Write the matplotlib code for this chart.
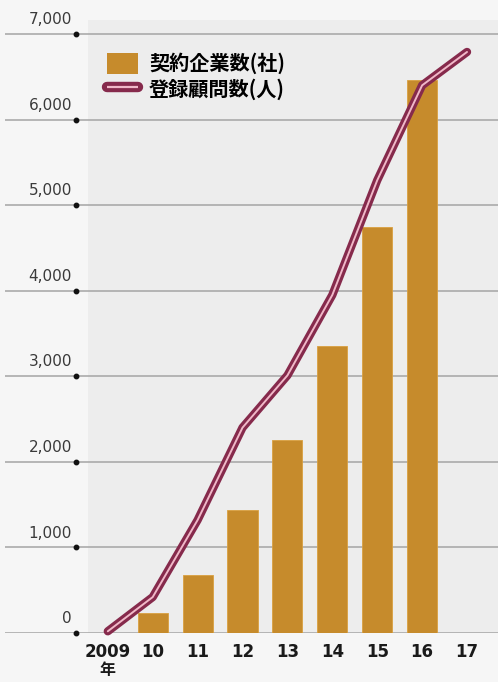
import matplotlib.pyplot as plt
import numpy as np
from matplotlib.lines import Line2D
from matplotlib.patches import Patch
from matplotlib.legend_handler import HandlerTuple

plt.rcParams['font.family'] = ['Noto Sans CJK JP', 'DejaVu Sans']

# Data
years = ["2009", "10", "11", "12", "13", "14", "15", "16", "17"]
companies = [0, 230, 680, 1440, 2250, 3350, 4750, 6460, 0]       # 契約企業数(社)
advisors = [20, 420, 1320, 2400, 3010, 3950, 5290, 6400, 6790]   # 登録顧問数(人)
yticks = [0, 1000, 2000, 3000, 4000, 5000, 6000, 7000]

BAR_COLOR = "#c68b2c"
LINE_DARK = "#862a4c"
LINE_LIGHT = "#f0b8c8"
GRID_COLOR = "#a4a4a4"

fig = plt.figure(figsize=(4.98, 6.82), dpi=100)
fig.patch.set_facecolor("#f6f6f6")
ax = fig.add_axes([0.01, 1 - 633 / 682, 0.99, 613 / 682])
ax.set_facecolor("none")

x = np.arange(len(years))
ax.set_xlim(-2.29, 8.69)
ax.set_ylim(0, 7000 * 613 / 599)

# slightly darker plot region
ax.axvspan(-0.45, 8.69, color="#ededed", zorder=0, lw=0)

# gridlines with dots
for v in yticks:
    ax.axhline(v, color=GRID_COLOR, lw=1.1, zorder=1)
    ax.plot(-0.7, v, "o", color="#111111", ms=3.2, zorder=3, clip_on=False)
    ax.text(-0.8, v + 80, f"{v:,}", ha="right", va="bottom", fontsize=11,
            color="#3a3a3a", family="DejaVu Sans")

# bars (skip zero-height ones)
mask = np.array(companies) > 0
ax.bar(x[mask], np.array(companies)[mask], width=0.67, color=BAR_COLOR,
       edgecolor="#d9a040", linewidth=0.6, zorder=2)

# double-stroke line
ax.plot(x, advisors, color=LINE_DARK, lw=6, solid_capstyle="round",
        solid_joinstyle="round", zorder=4, clip_on=False)
ax.plot(x, advisors, color=LINE_LIGHT, lw=1.4, solid_capstyle="round",
        solid_joinstyle="round", zorder=5, clip_on=False)

# x tick labels
ax.set_xticks(x)
ax.set_xticklabels(years, fontsize=12, color="#1a1a1a", fontweight="bold",
                   family="DejaVu Sans")
ax.tick_params(axis="x", length=0, pad=7)
ax.text(0, -335, "年", ha="center", va="top", fontsize=11.5, color="#1a1a1a",
        fontweight="bold")
ax.set_yticks([])
for s in ax.spines.values():
    s.set_visible(False)

# legend
bar_handle = Patch(facecolor=BAR_COLOR, edgecolor="none")
line_handle = (Line2D([], [], color=LINE_DARK, lw=7.5, solid_capstyle="round"),
               Line2D([], [], color=LINE_LIGHT, lw=1.6, solid_capstyle="butt"))
leg = ax.legend([bar_handle, line_handle], ["契約企業数(社)", "登録顧問数(人)"],
                handler_map={tuple: HandlerTuple(ndivide=1, pad=0)},
                loc="upper left", bbox_to_anchor=(0.19, 0.96), frameon=False,
                prop={"size": 14.5, "weight": "bold"}, handlelength=1.55,
                handleheight=1.2, handletextpad=0.55, labelspacing=0.2,
                borderaxespad=0)

fig.savefig("out.png", dpi=100, facecolor=fig.get_facecolor())
